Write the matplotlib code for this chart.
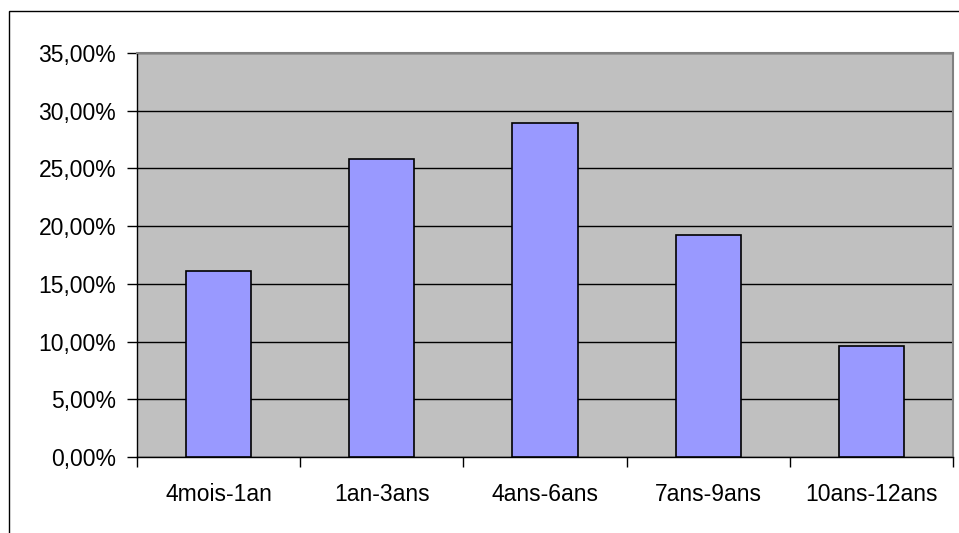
import matplotlib.pyplot as plt
from matplotlib.patches import Rectangle
from matplotlib.ticker import FuncFormatter, MultipleLocator

categories = ["4mois-1an", "1an-3ans", "4ans-6ans", "7ans-9ans", "10ans-12ans"]
values = [16.1, 25.8, 28.9, 19.2, 9.6]

plt.rcParams["font.family"] = ["Liberation Sans", "DejaVu Sans"]

fig = plt.figure(figsize=(9.59, 5.33), dpi=100)
fig.patch.set_facecolor("white")

# outer chart border (runs off the right and bottom edges)
fig.patches.append(Rectangle((9 / 959, -0.1), 1.2, (533 - 11) / 533 + 0.1,
                             transform=fig.transFigure, fill=False,
                             edgecolor="black", linewidth=1.0))

ax = fig.add_axes([137 / 959, (533 - 457) / 533, (953 - 137) / 959, (457 - 53) / 533])
ax.set_facecolor("#C0C0C0")

x = list(range(len(categories)))
ax.bar(x, values, width=0.4, color="#9999FF", edgecolor="black", linewidth=1.2, zorder=3)

ax.set_xlim(-0.5, len(categories) - 0.5)
ax.set_ylim(0, 35)
ax.yaxis.set_major_locator(MultipleLocator(5))
ax.yaxis.set_major_formatter(FuncFormatter(lambda v, p: f"{v:.2f}%".replace(".", ",")))
ax.grid(axis="y", color="black", linewidth=1.0, zorder=1)

ax.set_xticks(x)
ax.set_xticklabels(categories)
ax.set_xticks([i - 0.5 for i in range(len(categories) + 1)], minor=True)
ax.tick_params(axis="x", which="major", length=0, pad=19, labelsize=16.5)
ax.tick_params(axis="x", which="minor", length=7, width=1, color="black")
ax.tick_params(axis="y", length=7, width=1, pad=8, labelsize=16.5)

for side in ["left", "bottom"]:
    ax.spines[side].set_color("black")
    ax.spines[side].set_linewidth(1.0)
for side in ["top", "right"]:
    ax.spines[side].set_color("#808080")
    ax.spines[side].set_linewidth(1.5)

fig.savefig("out.png", dpi=100)
